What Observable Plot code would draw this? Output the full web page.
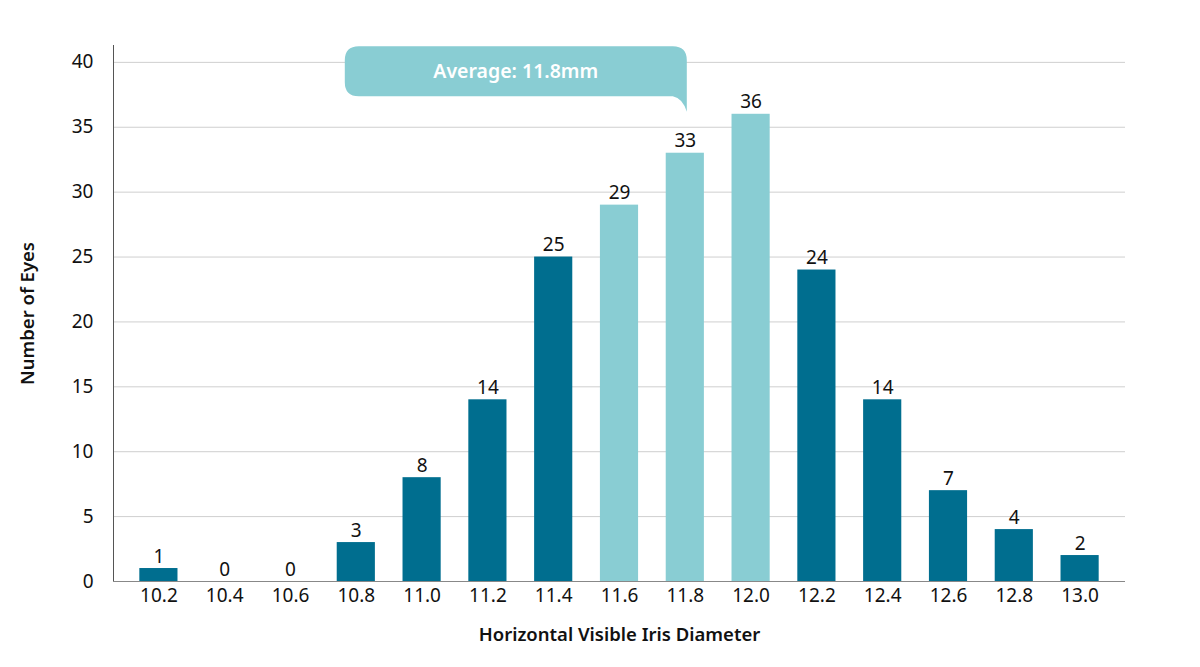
<!DOCTYPE html>
<html>
<head>
<meta charset="utf-8">
<script src="https://cdn.jsdelivr.net/npm/d3@7"></script>
<script src="https://cdn.jsdelivr.net/npm/@observablehq/plot@0.6"></script>
<style>
  html, body { margin: 0; padding: 0; background: #fff; }
  #chart { width: 1200px; height: 667px; }
  svg { font-family: "Noto Sans", sans-serif; }
</style>
</head>
<body>
<div id="chart"></div>
<script>
const categories = ["10.2","10.4","10.6","10.8","11.0","11.2","11.4","11.6","11.8","12.0","12.2","12.4","12.6","12.8","13.0"];
const counts = [1,0,0,3,8,14,25,29,33,36,24,14,7,4,2];
const highlighted = ["11.6","11.8","12.0"];
const yTicks = [0,5,10,15,20,25,30,35,40];
const calloutText = "Average: 11.8mm";
const calloutAt = "11.8";

const darkColor = "#006E8F";
const lightColor = "#89CDD3";
const FONT = "'Noto Sans', sans-serif";

const data = categories.map((c, i) => ({cat: c, n: counts[i], hi: highlighted.includes(c)}));

function callout(index, scales, values, dimensions) {
  const x = scales.x, y = scales.y;
  const tipX = x(calloutAt) + x.bandwidth() / 2;
  const right = tipX + 2;
  const left = right - 342;
  const top = y(41.2);
  const bottom = y(37.35);
  const tipY = y(36.15);
  const r = 14;
  const ns = "http://www.w3.org/2000/svg";
  const g = document.createElementNS(ns, "g");
  const path = document.createElementNS(ns, "path");
  const d = [
    `M${left + r},${top}`,
    `L${right - r},${top}`,
    `Q${right},${top} ${right},${top + r}`,
    `L${right},${tipY}`,
    `Q${right - 4},${bottom + 2} ${right - 14},${bottom}`,
    `L${left + r},${bottom}`,
    `Q${left},${bottom} ${left},${bottom - r}`,
    `L${left},${top + r}`,
    `Q${left},${top} ${left + r},${top}`,
    "Z"
  ].join(" ");
  path.setAttribute("d", d);
  path.setAttribute("fill", lightColor);
  g.appendChild(path);
  const t = document.createElementNS(ns, "text");
  t.setAttribute("x", (left + right) / 2);
  t.setAttribute("y", (top + bottom) / 2);
  t.setAttribute("dy", "0.35em");
  t.setAttribute("text-anchor", "middle");
  t.setAttribute("fill", "#fff");
  t.setAttribute("font-size", "19.5");
  t.setAttribute("font-weight", "600");
  t.setAttribute("font-family", FONT);
  t.textContent = calloutText;
  g.appendChild(t);
  return g;
}

const plot = Plot.plot({
  width: 1200,
  height: 667,
  marginLeft: 113,
  marginRight: 75,
  marginTop: 45,
  marginBottom: 86,
  style: {fontFamily: FONT, fontSize: "19px", color: "#111"},
  x: {domain: categories, paddingInner: 0.42, paddingOuter: 0.4, round: false, label: null},
  y: {domain: [0, 41.3], label: null},
  marks: [
    Plot.gridY(yTicks, {stroke: "#cfcfcf", strokeOpacity: 1}),
    Plot.barY(data, {x: "cat", y: "n", fill: d => d.hi ? lightColor : darkColor}),
    Plot.text(data, {x: "cat", y: "n", text: d => String(d.n), dy: -12, fontSize: 19, fill: "#111"}),
    Plot.axisY(yTicks, {tickSize: 0, tickPadding: 20, fontSize: 19, label: null}),
    Plot.axisX({tickSize: 0, tickPadding: 7, fontSize: 19, label: null}),
    Plot.frame({anchor: "left", stroke: "#555"}),
    Plot.ruleY([0], {stroke: "#888"}),
    callout,
    Plot.text(["Horizontal Visible Iris Diameter"], {frameAnchor: "bottom", dy: 59, fontSize: 18.5, fontWeight: 600, fill: "#111"}),
    Plot.text(["Number of Eyes"], {frameAnchor: "left", textAnchor: "middle", dx: -85, rotate: -90, fontSize: 18.5, fontWeight: 600, fill: "#111"})
  ]
});
document.getElementById("chart").appendChild(plot);
</script>
</body>
</html>
